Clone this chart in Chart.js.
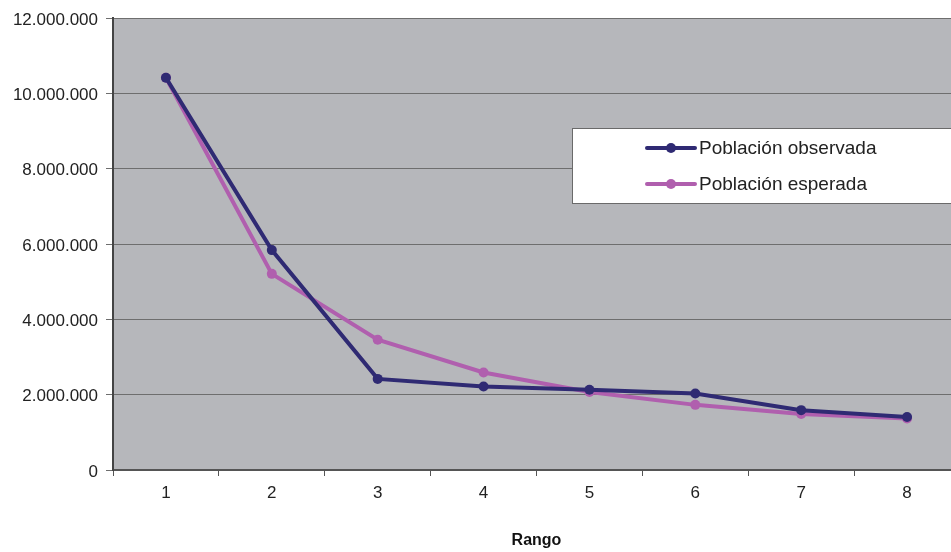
<!DOCTYPE html>
<html>
<head>
<meta charset="utf-8">
<script src="https://cdn.jsdelivr.net/npm/chart.js@4"></script>
<style>
  html, body { margin: 0; padding: 0; background: #ffffff; }
  #wrap { width: 951px; height: 552px; overflow: hidden; position: relative; }
  #box { width: 965px; height: 552px; }
</style>
</head>
<body>
<div id="wrap"><div id="box"><canvas id="chart"></canvas></div></div>
<script>
// values
const rangos = ['1', '2', '3', '4', '5', '6', '7', '8'];
const observada = [10420000, 5840000, 2420000, 2220000, 2130000, 2030000, 1590000, 1410000];
const esperada = [10420000, 5210000, 3460000, 2590000, 2070000, 1730000, 1490000, 1370000];
const yTicks = [0, 2000000, 4000000, 6000000, 8000000, 10000000, 12000000];

const colObs = '#2f2a73';
const colEsp = '#b05fae';
const fontName = '"Liberation Sans", Arial, sans-serif';

function fmt(v) {
  return v.toString().replace(/\B(?=(\d{3})+(?!\d))/g, '.');
}

// grey plot background
const plotBg = {
  id: 'plotBg',
  beforeDraw(chart) {
    const a = chart.chartArea;
    const ctx = chart.ctx;
    ctx.save();
    ctx.fillStyle = '#b6b7bb';
    ctx.fillRect(a.left, a.top, a.right - a.left, a.bottom - a.top);
    ctx.restore();
  }
};

// boxed legend like the original
const boxLegend = {
  id: 'boxLegend',
  afterDraw(chart) {
    const ctx = chart.ctx;
    const x0 = 572, y0 = 128, w = 400, h = 75;
    ctx.save();
    ctx.fillStyle = '#ffffff';
    ctx.fillRect(x0, y0, w, h);
    ctx.strokeStyle = '#6a6a6a';
    ctx.lineWidth = 1;
    ctx.strokeRect(x0 + 0.5, y0 + 0.5, w, h);
    chart.data.datasets.forEach((ds, i) => {
      const yy = y0 + 20 + i * 36;
      ctx.strokeStyle = ds.borderColor;
      ctx.lineWidth = 4;
      ctx.lineCap = 'round';
      ctx.beginPath();
      ctx.moveTo(647, yy);
      ctx.lineTo(695, yy);
      ctx.stroke();
      ctx.fillStyle = ds.borderColor;
      ctx.beginPath();
      ctx.arc(671, yy, 5, 0, Math.PI * 2);
      ctx.fill();
      ctx.fillStyle = '#222222';
      ctx.font = '19px ' + fontName;
      ctx.textBaseline = 'middle';
      ctx.fillText(ds.label, 699, yy + 1);
    });
    ctx.restore();
  }
};

new Chart(document.getElementById('chart'), {
  type: 'line',
  data: {
    labels: rangos,
    datasets: [
      {
        label: 'Población observada',
        data: observada,
        borderColor: colObs,
        backgroundColor: colObs,
        borderWidth: 4,
        pointRadius: 5,
        pointBorderWidth: 0,
        pointBackgroundColor: colObs,
        tension: 0
      },
      {
        label: 'Población esperada',
        data: esperada,
        borderColor: colEsp,
        backgroundColor: colEsp,
        borderWidth: 4,
        pointRadius: 5,
        pointBorderWidth: 0,
        pointBackgroundColor: colEsp,
        tension: 0
      }
    ]
  },
  options: {
    responsive: true,
    maintainAspectRatio: false,
    animation: false,
    layout: { padding: { top: 16, right: 2, bottom: 0, left: 0 } },
    plugins: {
      legend: { display: false },
      tooltip: { enabled: false }
    },
    scales: {
      x: {
        offset: true,
        grid: {
          offset: true,
          drawOnChartArea: false,
          drawTicks: true,
          tickLength: 6,
          color: '#555555'
        },
        border: { display: true, color: '#555555', width: 2 },
        ticks: {
          color: '#222222',
          font: { family: fontName, size: 17 },
          padding: 7
        },
        title: {
          display: true,
          text: 'Rango',
          color: '#111111',
          font: { family: fontName, size: 16, weight: 'bold' },
          padding: { top: 28, bottom: 2 }
        },
        afterFit(scale) { scale.height = 82; }
      },
      y: {
        min: 0,
        max: 12000000,
        afterBuildTicks(scale) { scale.ticks = yTicks.map(v => ({ value: v })); },
        grid: {
          color: '#6e6e6e',
          lineWidth: 1,
          tickLength: 7,
          drawTicks: true
        },
        border: { display: true, color: '#444444', width: 2 },
        ticks: {
          color: '#222222',
          font: { family: fontName, size: 17 },
          padding: 8,
          labelOffset: 2,
          callback: v => fmt(v)
        },
        afterFit(scale) { scale.width = 113; }
      }
    }
  },
  plugins: [plotBg, boxLegend]
});
</script>
</body>
</html>
